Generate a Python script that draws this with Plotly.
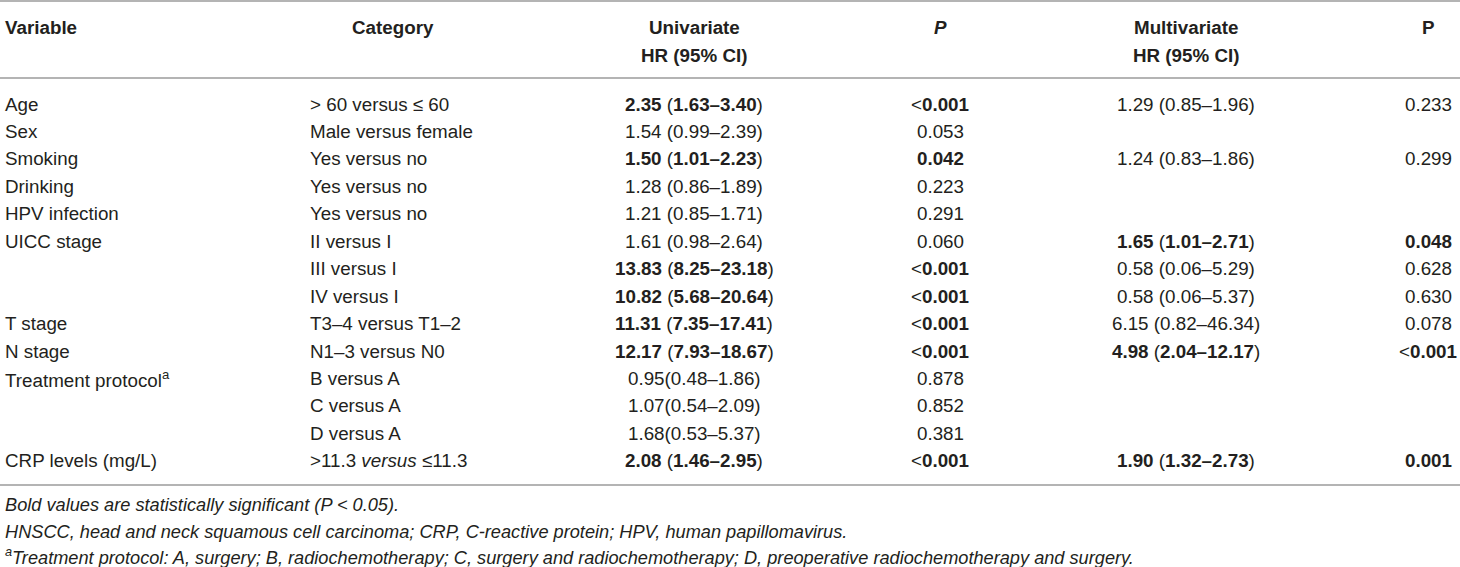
import plotly.graph_objects as go

# ── Table content ─────────────────────────────────────────────────────────
variables = ["Age", "Sex", "Smoking", "Drinking", "HPV infection", "UICC stage", "", "",
             "T stage", "N stage", "Treatment protocol<sup>a</sup>", "", "", "CRP levels (mg/L)"]
categories = ["&gt; 60 versus ≤ 60", "Male versus female", "Yes versus no", "Yes versus no",
              "Yes versus no", "II versus I", "III versus I", "IV versus I",
              "T3–4 versus T1–2", "N1–3 versus N0", "B versus A", "C versus A", "D versus A",
              "&gt;11.3 <i>versus</i> ≤11.3"]

uni_hr = ["2.35", "1.54", "1.50", "1.28", "1.21", "1.61", "13.83", "10.82", "11.31", "12.17",
          "0.95", "1.07", "1.68", "2.08"]
uni_ci = ["1.63–3.40", "0.99–2.39", "1.01–2.23", "0.86–1.89", "0.85–1.71", "0.98–2.64",
          "8.25–23.18", "5.68–20.64", "7.35–17.41", "7.93–18.67", "0.48–1.86", "0.54–2.09",
          "0.53–5.37", "1.46–2.95"]
uni_sep = [" "] * 10 + [""] * 3 + [" "]   # treatment rows printed without a space
uni_p = ["<0.001", "0.053", "0.042", "0.223", "0.291", "0.060", "<0.001", "<0.001",
         "<0.001", "<0.001", "0.878", "0.852", "0.381", "<0.001"]

multi_hr = ["1.29", None, "1.24", None, None, "1.65", "0.58", "0.58", "6.15", "4.98",
            None, None, None, "1.90"]
multi_ci = ["0.85–1.96", None, "0.83–1.86", None, None, "1.01–2.71", "0.06–5.29",
            "0.06–5.37", "0.82–46.34", "2.04–12.17", None, None, None, "1.32–2.73"]
multi_p = ["0.233", None, "0.299", None, None, "0.048", "0.628", "0.630", "0.078",
           "<0.001", None, None, None, "0.001"]

footnotes = [
    "Bold values are statistically significant (P &lt; 0.05).",
    "HNSCC, head and neck squamous cell carcinoma; CRP, C-reactive protein; HPV, human papillomavirus.",
    "<sup>a</sup>Treatment protocol: A, surgery; B, radiochemotherapy; C, surgery and "
    "radiochemotherapy; D, preoperative radiochemotherapy and surgery.",
]


# ── Formatting helpers ───────────────────────────────────────────────────
def significant(p):
    return p is not None and (p.startswith("<") or float(p) < 0.05)


def fmt_hr(hr, ci, p, sep=" "):
    if significant(p):
        return f"<b>{hr}</b>{sep}(<b>{ci}</b>)"
    return f"{hr}{sep}({ci})"


def fmt_p(p):
    if p.startswith("<"):
        return f"&lt;<b>{p[1:]}</b>"
    return f"<b>{p}</b>" if significant(p) else p


# ── Layout constants (pixel space) ───────────────────────────────────────
W, H = 1460, 567
ROW0, ROW_H = 104, 27.45
HEAD1, HEAD2 = 27, 55
X_VAR, X_CAT, X_CAT_HEAD = 3, 308, 393
X_UNI, X_UP, X_MULTI, X_MP = 694, 940, 1186, 1428
TXT = "#231f20"
FONT = "Liberation Sans, Arial, Helvetica, sans-serif"
FS = 18.8

fig = go.Figure()
ann = []


def add(x, y, text, anchor="center", size=FS):
    ann.append(dict(x=x, y=y, xref="x", yref="y", text=text, showarrow=False,
                    xanchor=anchor, yanchor="middle",
                    font=dict(family=FONT, size=size, color=TXT)))


# headers
add(X_VAR, HEAD1, "<b>Variable</b>", "left")
add(X_CAT_HEAD, HEAD1, "<b>Category</b>")
add(X_UNI, HEAD1, "<b>Univariate</b>")
add(X_UNI, HEAD2, "<b>HR (95% CI)</b>")
add(X_UP, HEAD1, "<b><i>P</i></b>")
add(X_MULTI, HEAD1, "<b>Multivariate</b>")
add(X_MULTI, HEAD2, "<b>HR (95% CI)</b>")
add(X_MP, HEAD1, "<b>P</b>")

# body rows
for i in range(len(variables)):
    y = ROW0 + i * ROW_H
    if variables[i]:
        add(X_VAR, y, variables[i], "left")
    add(X_CAT, y, categories[i], "left")
    add(X_UNI, y, fmt_hr(uni_hr[i], uni_ci[i], uni_p[i], uni_sep[i]))
    add(X_UP, y, fmt_p(uni_p[i]))
    if multi_hr[i] is not None:
        add(X_MULTI, y, fmt_hr(multi_hr[i], multi_ci[i], multi_p[i]))
        add(X_MP, y, fmt_p(multi_p[i]))

# footnotes
for note, y in zip(footnotes, [505, 532, 556]):
    add(X_VAR, y, f"<i>{note}</i>", "left", 18.2)

# rules
for y in [1, 78, 485]:
    fig.add_shape(type="line", x0=0, x1=W, y0=y, y1=y, xref="x", yref="y",
                  line=dict(color="#9b9b9b", width=1.6))

fig.update_layout(
    width=W, height=H,
    margin=dict(l=0, r=0, t=0, b=0),
    paper_bgcolor="white", plot_bgcolor="white",
    xaxis=dict(range=[0, W], visible=False, fixedrange=True),
    yaxis=dict(range=[H, 0], visible=False, fixedrange=True),
    annotations=ann,
    showlegend=False,
)

# page body has a default 8px margin; drop it so the figure fills the window
fig.write_html("out.html",
               config={"displayModeBar": False},
               post_script="document.body.style.margin='0';"
                           "document.body.style.overflow='hidden';")
